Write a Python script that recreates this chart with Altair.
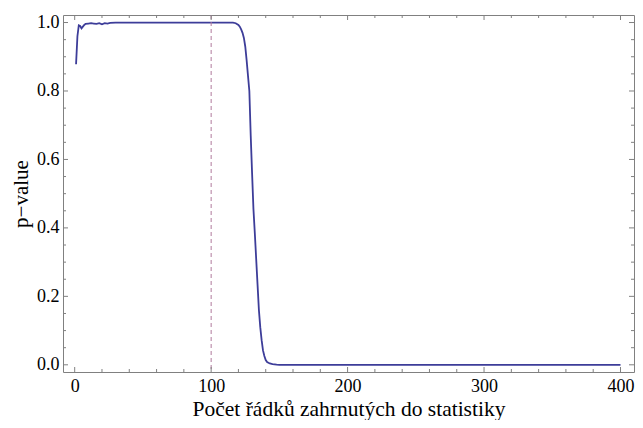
import altair as alt
import pandas as pd

# data
xs = [1, 2, 3, 4, 5, 6, 7, 8, 10, 12, 14, 16, 18, 20, 22, 24, 26, 30, 40, 60, 80, 100,
      110, 116, 118, 120, 121, 122, 123, 124, 125, 126, 127, 128, 129, 130, 131, 132,
      133, 134, 135, 136, 137, 138, 139, 140, 141, 143, 145, 148, 150, 200, 250, 300, 350, 400]
ps = [0.878, 0.96, 0.992, 0.99, 0.983, 0.988, 0.993, 0.996, 0.997, 0.998, 0.997, 0.996, 0.998,
      0.995, 0.998, 0.997, 0.999, 1.0, 1.0, 1.0, 1.0, 1.0,
      1.0, 1.0, 0.998, 0.993, 0.988, 0.98, 0.97, 0.955, 0.93, 0.89, 0.845, 0.80, 0.67, 0.56,
      0.455, 0.385, 0.31, 0.235, 0.16, 0.11, 0.072, 0.042, 0.026, 0.014, 0.008, 0.004,
      0.002, 0.0005, 0.0, 0.0, 0.0, 0.0, 0.0, 0.0]

x_major = [0, 100, 200, 300, 400]
x_minor = [20, 40, 60, 80, 120, 140, 160, 180, 220, 240, 260, 280, 320, 340, 360, 380]
y_major = [0.0, 0.2, 0.4, 0.6, 0.8, 1.0]
y_minor = [0.05, 0.1, 0.15, 0.25, 0.3, 0.35, 0.45, 0.5, 0.55, 0.65, 0.7, 0.75, 0.85, 0.9, 0.95]
marker_x = [100]

W, H = 571, 357
FONT = "Liberation Serif, DejaVu Serif, Times New Roman, serif"
FRAME = "#808080"
LINE = "#3d3d99"

xscale = alt.Scale(domain=[-8.57, 409.9], nice=False, zero=False)
yscale = alt.Scale(domain=[-0.021, 1.022], nice=False, zero=False)

xaxis = alt.Axis(
    values=x_major, format="d", grid=False, domain=False, ticks=False, tickSize=0,
    labelFont=FONT, labelFontSize=18, labelColor="black", labelPadding=5,
    title="Počet řádků zahrnutých do statistiky", titleFont=FONT, titleFontSize=21.5,
    titleFontWeight="normal", titleColor="black", titlePadding=3)
yaxis = alt.Axis(
    values=y_major, format=".1f", grid=False, domain=False, ticks=False, tickSize=0,
    labelFont=FONT, labelFontSize=18, labelColor="black", labelPadding=4,
    title="p−value", titleFont=FONT, titleFontSize=21,
    titleFontWeight="normal", titleColor="black", titlePadding=5)

df = pd.DataFrame({"x": xs, "p": ps})

line = alt.Chart(df).mark_line(color=LINE, strokeWidth=1.8).encode(
    x=alt.X("x:Q", scale=xscale, axis=xaxis),
    y=alt.Y("p:Q", scale=yscale, axis=yaxis),
)

rule = alt.Chart(pd.DataFrame({"x": marker_x})).mark_rule(
    color="#b07a9c", strokeWidth=1, strokeDash=[4, 3]).encode(
    x=alt.X("x:Q", scale=xscale, axis=xaxis))


def xticks(vals, length):
    d = pd.DataFrame({"x": vals})
    bottom = alt.Chart(d).mark_rule(color=FRAME, strokeWidth=1).encode(
        x=alt.X("x:Q", scale=xscale, axis=xaxis), y=alt.value(H), y2=alt.value(H - length))
    top = alt.Chart(d).mark_rule(color=FRAME, strokeWidth=1).encode(
        x=alt.X("x:Q", scale=xscale, axis=xaxis), y=alt.value(0), y2=alt.value(length))
    return [bottom, top]


def yticks(vals, length):
    d = pd.DataFrame({"p": vals})
    left = alt.Chart(d).mark_rule(color=FRAME, strokeWidth=1).encode(
        y=alt.Y("p:Q", scale=yscale, axis=yaxis), x=alt.value(0), x2=alt.value(length))
    right = alt.Chart(d).mark_rule(color=FRAME, strokeWidth=1).encode(
        y=alt.Y("p:Q", scale=yscale, axis=yaxis), x=alt.value(W), x2=alt.value(W - length))
    return [left, right]


layers = [line, rule] + xticks(x_major, 5) + xticks(x_minor, 3) + yticks(y_major, 5) + yticks(y_minor, 3)

chart = alt.layer(*layers).properties(
    width=W, height=H,
    autosize=alt.AutoSizeParams(type="none"),
    padding={"left": 55, "top": 7, "right": 1, "bottom": 48},
    background="white",
).configure_view(stroke=FRAME, strokeWidth=1)

chart.save("out.html", embed_options={"renderer": "svg", "actions": False})
